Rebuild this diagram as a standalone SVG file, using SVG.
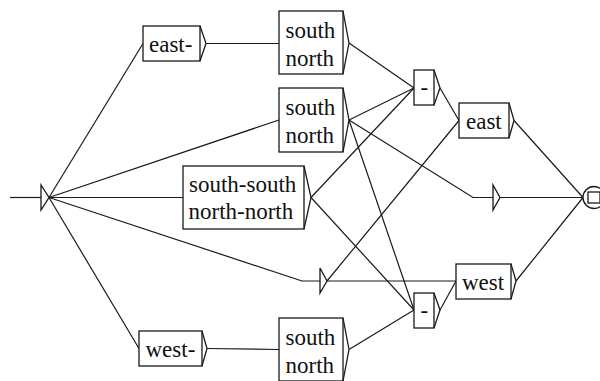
<svg xmlns="http://www.w3.org/2000/svg" width="600" height="381" viewBox="0 0 600 381">
<style>
.box{fill:#fff;stroke:#1a1a1a;stroke-width:1.3}
.arr{fill:none;stroke:#1a1a1a;stroke-width:1.3;stroke-linejoin:miter}
.con line,.con polyline{fill:none;stroke:#1a1a1a;stroke-width:1.2}
.t{font-size:23px;fill:#111}
</style>
<rect width="600" height="381" fill="#fff"/>
<g id="connectors" class="con">
<line x1="10" y1="197.5" x2="41" y2="197.5"/>
<line x1="49" y1="197.5" x2="143" y2="43.5"/>
<line x1="49" y1="197.5" x2="279" y2="120"/>
<line x1="49" y1="197.5" x2="183" y2="197.5"/>
<polyline points="49,197.5 302,281 320,281"/>
<line x1="49" y1="197.5" x2="139" y2="348.5"/>
<line x1="206" y1="43.5" x2="279" y2="43.5"/>
<line x1="349" y1="43" x2="414" y2="88"/>
<line x1="349" y1="120" x2="414" y2="88"/>
<line x1="349" y1="120" x2="414" y2="310"/>
<polyline points="349,120 473,197.5 493,197.5"/>
<line x1="311" y1="197.5" x2="414" y2="88"/>
<line x1="311" y1="197.5" x2="414" y2="310"/>
<line x1="440" y1="88" x2="459" y2="120.5"/>
<line x1="514" y1="120.5" x2="583" y2="197.5"/>
<line x1="500" y1="197.5" x2="583" y2="197.5"/>
<line x1="327" y1="281" x2="456" y2="281"/>
<line x1="327" y1="281" x2="459" y2="120.5"/>
<line x1="440" y1="310" x2="456" y2="281"/>
<line x1="516" y1="281" x2="583" y2="197.5"/>
<line x1="207" y1="348.5" x2="279" y2="349.5"/>
<line x1="349" y1="349.5" x2="414" y2="310"/>
</g>
<g font-family="Liberation Serif, Times New Roman, serif">
<g id="initial">
<polygon class="box" points="41,185 41,210 49,197.5"/>
</g>
<g id="n-east-prefix">
<rect class="box" x="143" y="26" width="57" height="35"/>
<polyline class="arr" points="200,26 206,43.5 200,61"/>
<text class="t" x="149" y="52">east-</text>
</g>
<g id="n-sn1">
<rect class="box" x="279" y="11" width="64" height="63"/>
<polyline class="arr" points="343,11 349,43 343,74"/>
<text class="t" x="285.5" y="38">south</text>
<text class="t" x="285.5" y="66">north</text>
</g>
<g id="n-sn2">
<rect class="box" x="279" y="88" width="64" height="64"/>
<polyline class="arr" points="343,88 349,120 343,152"/>
<text class="t" x="285.5" y="115">south</text>
<text class="t" x="285.5" y="143">north</text>
</g>
<g id="n-ss">
<rect class="box" x="183" y="166" width="121" height="63"/>
<polyline class="arr" points="304,166 311,197.5 304,229"/>
<text class="t" x="189" y="192">south-south</text>
<text class="t" x="188.5" y="219">north-north</text>
</g>
<g id="n-dash-top">
<rect class="box" x="414" y="70" width="20" height="35"/>
<polyline class="arr" points="434,70 440,88 434,105"/>
<text class="t" x="420.5" y="95">-</text>
</g>
<g id="n-east">
<rect class="box" x="459" y="103" width="50" height="35"/>
<polyline class="arr" points="509,103 514,120.5 509,138"/>
<text class="t" x="466" y="129">east</text>
</g>
<g id="n-eps-right">
<polygon class="box" points="493,185 493,210 500,197.5"/>
</g>
<g id="n-eps-lower">
<polygon class="box" points="320,268 320,293 327,281"/>
</g>
<g id="n-west">
<rect class="box" x="456" y="264" width="55" height="35"/>
<polyline class="arr" points="511,264 516,281 511,299"/>
<text class="t" x="462" y="290">west</text>
</g>
<g id="n-dash-bottom">
<rect class="box" x="414" y="293" width="20" height="35"/>
<polyline class="arr" points="434,293 440,310 434,328"/>
<text class="t" x="420.5" y="318">-</text>
</g>
<g id="n-west-prefix">
<rect class="box" x="139" y="331" width="63" height="35"/>
<polyline class="arr" points="202,331 207,348.5 202,366"/>
<text class="t" x="145.5" y="357">west-</text>
</g>
<g id="n-sn3">
<rect class="box" x="279" y="318" width="64" height="63"/>
<polyline class="arr" points="343,318 349,349.5 343,381"/>
<text class="t" x="285.5" y="345">south</text>
<text class="t" x="285.5" y="373">north</text>
</g>
<g id="final">
<circle class="box" cx="594" cy="197.5" r="11"/>
<rect class="box" x="588" y="192" width="12" height="11"/>
</g>
</g>
</svg>
